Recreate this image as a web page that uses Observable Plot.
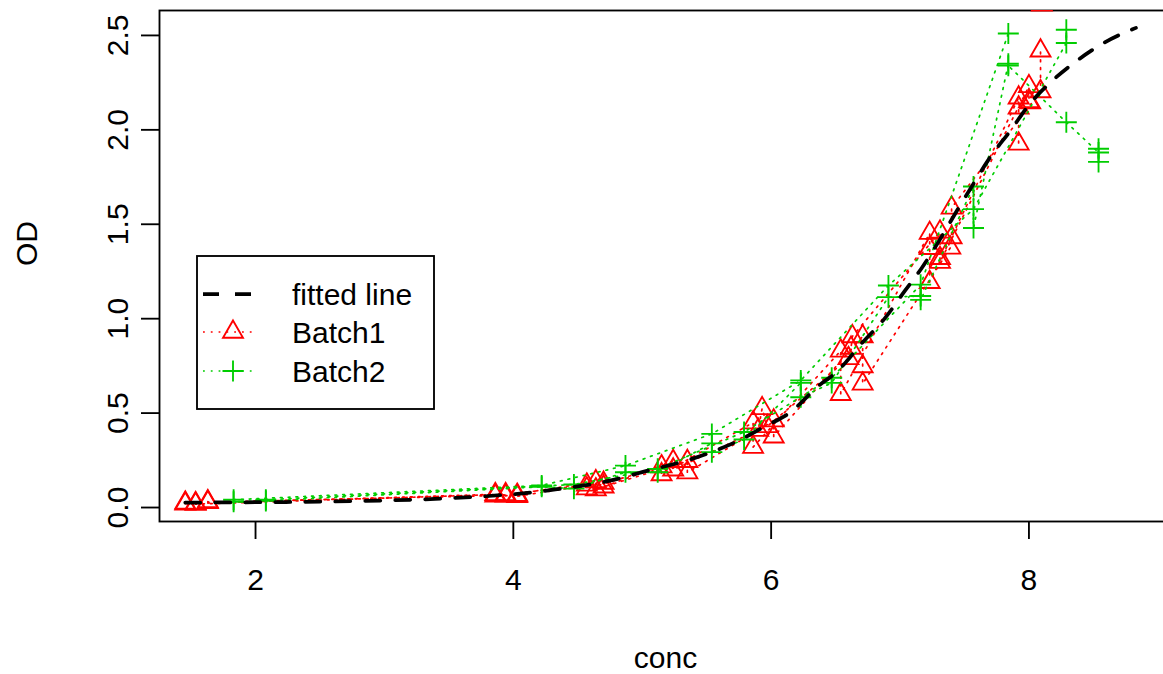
<!DOCTYPE html>
<html><head><meta charset="utf-8">
<script src="https://cdn.jsdelivr.net/npm/d3@7"></script>
<script src="https://cdn.jsdelivr.net/npm/@observablehq/plot@0.6"></script>
<style>
html,body{margin:0;padding:0;background:#fff;overflow:hidden;}
#wrap{position:relative;width:1163px;height:674px;overflow:hidden;background:#fff;}
#wrap > svg{max-width:none !important;display:block;}
#legend{position:absolute;left:0;top:0;pointer-events:none;}
</style></head><body><div id="wrap"></div>
<script>
// ---- data ----
const xTicks = [2, 4, 6, 8];
const yTicks = [0, 0.5, 1, 1.5, 2, 2.5];
const legendLabels = ["fitted line", "Batch1", "Batch2"];

const fitConc = [1.455, 2.0, 2.5, 3.0, 3.59, 4.11, 4.34, 4.81, 4.96, 5.5, 5.75, 5.94, 6.16, 6.35, 6.52, 6.71, 6.88, 7.04, 7.17, 7.31, 7.44, 7.57, 7.70, 7.85, 8.01, 8.17, 8.36, 8.57, 8.77, 8.83];
const fitOD   = [0.026, 0.028, 0.031, 0.037, 0.052, 0.078, 0.097, 0.152, 0.18, 0.284, 0.355, 0.425, 0.51, 0.634, 0.726, 0.875, 1.0, 1.15, 1.27, 1.42, 1.57, 1.715, 1.856, 1.99, 2.14, 2.253, 2.36, 2.456, 2.523, 2.54];

const b1Run  = ["A","A","A","A","A","A","A","A","A","A","A","A","A","A","A","A","A","A",
                "B","B","B","B","B","B","B","B","B","B","B","B","B","B","B","B","B","B","B","B",
                "C","C","C","C","C","C","C","C","C","C","C","C","C","C","C","C","C","C","D"];
const b1Conc = [1.455,1.455,3.86,3.86,4.57,4.57,5.15,5.15,5.86,5.86,6.54,6.54,7.23,7.23,7.23,7.92,7.92,7.92,
                1.535,1.535,3.94,3.94,4.64,4.64,5.24,5.24,5.90,5.93,5.97,6.60,6.62,6.63,7.31,7.31,7.31,8.00,8.00,8.01,
                1.63,1.63,4.03,4.03,4.70,4.70,5.35,5.35,6.02,6.02,6.71,6.71,6.71,7.39,7.40,7.40,8.09,8.09,8.10];
const b1OD   = [0.025,0.020,0.070,0.062,0.120,0.100,0.217,0.175,0.450,0.320,0.830,0.600,1.453,1.373,1.193,2.170,2.117,1.926,
                0.022,0.018,0.070,0.062,0.138,0.095,0.245,0.200,0.410,0.525,0.430,0.790,0.845,0.906,1.460,1.320,1.300,2.230,2.150,2.144,
                0.032,0.028,0.066,0.060,0.130,0.110,0.245,0.185,0.460,0.375,0.906,0.747,0.655,1.375,1.430,1.587,2.203,2.419,2.662];

const b2Run  = ["P","P","P","P","P","P","P","P","P",
                "Q","Q","Q","Q","Q","Q","Q",
                "R","R","R","R","R","R","R","R","R","R","R","R","R","R","R","R","R","R","R","R","R","R","R"];
const b2Conc = [1.83,4.22,4.87,5.54,6.23,6.91,7.57,8.29,8.29,
                2.08,4.47,5.12,5.79,6.47,7.16,7.84,
                1.83,2.08,4.22,4.47,4.87,5.12,5.54,5.54,5.79,6.23,6.23,6.47,6.91,7.16,7.16,7.57,7.57,7.84,7.84,8.29,8.54,8.54,8.54];
const b2OD   = [0.041,0.117,0.222,0.390,0.673,1.176,1.580,2.460,2.530,
                0.041,0.122,0.205,0.400,0.687,1.180,2.510,
                0.030,0.035,0.110,0.100,0.187,0.187,0.340,0.293,0.360,0.660,0.584,0.660,1.114,1.120,1.100,1.700,1.480,2.350,2.340,2.040,1.880,1.900,1.830];

// ---- tables ----
const fit = fitConc.map((c, i) => ({conc: c, od: fitOD[i]}));
const b1 = b1Conc.map((c, i) => ({run: b1Run[i], conc: c, od: b1OD[i]}));
const b2 = b2Conc.map((c, i) => ({run: b2Run[i], conc: c, od: b2OD[i]}));

// ---- styles ----
const RED = "#FF0000", GREEN = "#00CD00";
const FONT = "'Liberation Sans', Arial, Helvetica, sans-serif";
const triSym = {draw(ctx, size) { const s = Math.sqrt(size / Math.PI);
  ctx.moveTo(0, -1.5551 * s); ctx.lineTo(1.3468 * s, 0.7776 * s); ctx.lineTo(-1.3468 * s, 0.7776 * s); ctx.closePath(); }};
const plusSym = {draw(ctx, size) { const s = Math.sqrt(size / Math.PI) * 1.4142;
  ctx.moveTo(-s, 0); ctx.lineTo(s, 0); ctx.moveTo(0, -s); ctx.lineTo(0, s); }};
const DOT = "1.8,6";

const chart = Plot.plot({
  width: 1172, height: 674,
  marginLeft: 159, marginRight: 1, marginTop: 10, marginBottom: 153,
  style: {fontFamily: FONT, fontSize: "30px", background: "white", color: "black", maxWidth: "none"},
  x: {domain: [1.255, 9.106]},
  y: {domain: [-0.074, 2.632]},
  marks: [
    Plot.frame({stroke: "black", strokeWidth: 1.85}),
    Plot.axisX(xTicks, {tickSize: 18, tickPadding: 29, fontSize: 30, label: null, strokeWidth: 1.85, tickFormat: d => String(d)}),
    Plot.axisY(yTicks, {tickSize: 18, label: null, strokeWidth: 1.85, tickFormat: () => ""}),
    Plot.line(b1, {x: "conc", y: "od", z: "run", stroke: RED, strokeWidth: 1.7, strokeDasharray: DOT, clip: true}),
    Plot.dot(b1, {x: "conc", y: "od", symbol: triSym, r: 7.42, stroke: RED, fill: "none", strokeWidth: 1.85, clip: true}),
    Plot.line(b2, {x: "conc", y: "od", z: "run", stroke: GREEN, strokeWidth: 1.7, strokeDasharray: DOT, clip: true}),
    Plot.dot(b2, {x: "conc", y: "od", symbol: plusSym, r: 7.42, stroke: GREEN, fill: "none", strokeWidth: 1.85, clip: true}),
    Plot.line(fit, {x: "conc", y: "od", stroke: "black", strokeWidth: 3.75, strokeDasharray: "15,15", curve: "monotone-x", clip: true}),
    Plot.text(yTicks, {y: d => d, text: d => d.toFixed(1), frameAnchor: "left", dx: -41, rotate: -90,
      textAnchor: "middle", lineAnchor: "middle", fontSize: 30}),
    Plot.text(["conc"], {text: d => d, frameAnchor: "bottom", dy: 137, lineAnchor: "middle", fontSize: 30}),
    Plot.text(["OD"], {text: d => d, frameAnchor: "left", dx: -132, rotate: -90, lineAnchor: "middle", fontSize: 30})
  ]
});
chart.style.maxWidth = "none";
document.getElementById("wrap").appendChild(chart);

// ---- legend (overlay inside the plot area, like R's legend()) ----
const lg = d3.select("#wrap").append("svg").attr("id", "legend")
  .attr("width", 1163).attr("height", 674);
lg.append("rect").attr("x", 197).attr("y", 256).attr("width", 237).attr("height", 153)
  .attr("fill", "white").attr("stroke", "black").attr("stroke-width", 1.85);
const rowsY = [294, 332, 371];
// fitted line
lg.append("line").attr("x1", 203).attr("x2", 252).attr("y1", rowsY[0]).attr("y2", rowsY[0])
  .attr("stroke", "black").attr("stroke-width", 3.75).attr("stroke-dasharray", "16,16");
// Batch1
lg.append("line").attr("x1", 203).attr("x2", 257).attr("y1", rowsY[1]).attr("y2", rowsY[1])
  .attr("stroke", RED).attr("stroke-width", 1.7).attr("stroke-dasharray", DOT);
lg.append("path").attr("d", d3.symbol(triSym, Math.PI * 7.42 * 7.42)())
  .attr("transform", `translate(233,${rowsY[1]})`).attr("fill", "none").attr("stroke", RED).attr("stroke-width", 1.85);
// Batch2
lg.append("line").attr("x1", 203).attr("x2", 257).attr("y1", rowsY[2]).attr("y2", rowsY[2])
  .attr("stroke", GREEN).attr("stroke-width", 1.7).attr("stroke-dasharray", DOT);
lg.append("path").attr("d", d3.symbol(plusSym, Math.PI * 7.42 * 7.42)())
  .attr("transform", `translate(233,${rowsY[2]})`).attr("fill", "none").attr("stroke", GREEN).attr("stroke-width", 1.85);
legendLabels.forEach((t, i) => {
  lg.append("text").attr("x", 292).attr("y", rowsY[i]).attr("dominant-baseline", "central")
    .attr("font-family", FONT).attr("font-size", 30).attr("fill", "black").text(t);
});
</script></body></html>
